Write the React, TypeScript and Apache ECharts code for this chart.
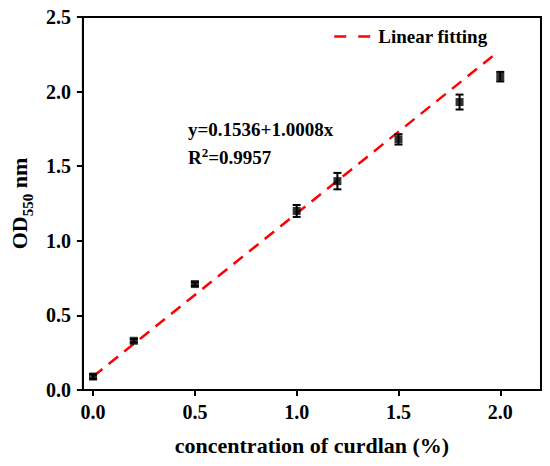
import React, { useEffect, useRef } from "react";
import * as echarts from "echarts";

const concentrations = [0, 0.2, 0.5, 1.0, 1.2, 1.5, 1.8, 2.0];
const odValues = [0.09, 0.33, 0.71, 1.2, 1.4, 1.68, 1.93, 2.1];
const odErrors = [0.015, 0.012, 0.012, 0.04, 0.055, 0.035, 0.05, 0.032];
const fitLine: [number, number][] = [
  [0, 0.09],
  [1.97, 2.245],
];
const xTicks = [0, 0.5, 1.0, 1.5, 2.0];
const equationText = "y=0.1536+1.0008x";
const r2Value = "0.9957";

const FONT = "'Liberation Serif', 'Times New Roman', serif";

export default function App() {
  const ref = useRef<HTMLDivElement>(null);
  useEffect(() => {
    if (!ref.current) return;
    const chart = echarts.init(ref.current, undefined, { renderer: "svg" });
    const errData = concentrations.map((x, i) => [x, odValues[i], odErrors[i]]);
    chart.setOption({
      animation: false,
      backgroundColor: "#fff",
      grid: {
        left: 77,
        top: 17,
        right: 9,
        bottom: 76,
        show: true,
        borderColor: "#000",
        borderWidth: 2,
        backgroundColor: "transparent",
      },
      legend: {
        data: ["Linear fitting"],
        left: 328,
        top: 22,
        itemWidth: 39,
        itemHeight: 14,
        itemGap: 10,
        itemStyle: { opacity: 0 },
        lineStyle: { color: "#ff0000", width: 2.5, type: [12, 12] },
        textStyle: { fontFamily: FONT, fontWeight: "bold", fontSize: 19, color: "#000" },
      },
      xAxis: {
        type: "value",
        min: -0.05,
        max: 2.2,
        splitLine: { show: false },
        axisLine: { onZero: false, lineStyle: { color: "#000", width: 2 } },
        axisTick: { customValues: xTicks, length: 6, lineStyle: { width: 2, color: "#000" } },
        axisLabel: {
          customValues: xTicks,
          formatter: (v: number) => v.toFixed(1),
          fontFamily: FONT,
          fontWeight: "bold",
          fontSize: 20,
          color: "#000",
          margin: 12,
        },
        name: "concentration of curdlan (%)",
        nameLocation: "middle",
        nameGap: 44,
        nameTextStyle: { fontFamily: FONT, fontWeight: "bold", fontSize: 22, color: "#000" },
      },
      yAxis: {
        type: "value",
        min: 0,
        max: 2.5,
        interval: 0.5,
        splitLine: { show: false },
        axisLine: { show: true, onZero: false, lineStyle: { color: "#000", width: 2 } },
        axisTick: { show: true, length: 6, lineStyle: { width: 2, color: "#000" } },
        axisLabel: {
          formatter: (v: number) => v.toFixed(1),
          fontFamily: FONT,
          fontWeight: "bold",
          fontSize: 20,
          color: "#000",
          margin: 12,
        },
        name: "{a|OD}{s|550}{a| nm}",
        nameLocation: "middle",
        nameGap: 46,
        nameTextStyle: {
          fontFamily: FONT,
          fontWeight: "bold",
          color: "#000",
          rich: {
            a: { fontFamily: FONT, fontWeight: "bold", fontSize: 22, lineHeight: 22, color: "#000" },
            s: {
              fontFamily: FONT,
              fontWeight: "bold",
              fontSize: 15,
              lineHeight: 15,
              verticalAlign: "top",
              padding: [12, 0, 0, 0],
              color: "#000",
            },
          },
        },
      },
      graphic: [
        {
          type: "text",
          left: 188,
          top: 120,
          style: {
            text: equationText,
            font: `bold 19px ${FONT}`,
            fill: "#000",
          },
        },
        {
          type: "text",
          left: 188,
          top: 146,
          style: {
            text: `{a|R}{p|2}{a|=${r2Value}}`,
            fill: "#000",
            rich: {
              a: { fontFamily: FONT, fontWeight: "bold", fontSize: 19, lineHeight: 22, fill: "#000" },
              p: { fontFamily: FONT, fontWeight: "bold", fontSize: 13, lineHeight: 13, verticalAlign: "top", fill: "#000" },
            },
          },
        },
      ],
      series: [
        {
          name: "Linear fitting",
          type: "line",
          data: fitLine,
          symbol: "none",
          lineStyle: { color: "#ff0000", width: 2.5, type: [12, 8] },
          itemStyle: { color: "#ff0000" },
          z: 3,
        },
        {
          name: "errors",
          type: "custom",
          data: errData,
          renderItem: (params: any, api: any) => {
            const x = api.value(0);
            const y = api.value(1);
            const e = api.value(2);
            const top = api.coord([x, y + e]);
            const bot = api.coord([x, y - e]);
            const cap = 4;
            const st = { stroke: "#000", lineWidth: 2 };
            return {
              type: "group",
              children: [
                { type: "line", shape: { x1: top[0], y1: top[1], x2: bot[0], y2: bot[1] }, style: st },
                { type: "line", shape: { x1: top[0] - cap, y1: top[1], x2: top[0] + cap, y2: top[1] }, style: st },
                { type: "line", shape: { x1: bot[0] - cap, y1: bot[1], x2: bot[0] + cap, y2: bot[1] }, style: st },
              ],
            };
          },
          z: 4,
        },
        {
          name: "OD",
          type: "scatter",
          data: concentrations.map((x, i) => [x, odValues[i]]),
          symbol: "rect",
          symbolSize: 8,
          itemStyle: { color: "#000" },
          z: 5,
        },
      ],
    });
    return () => chart.dispose();
  }, []);
  return (
    <div
      ref={ref}
      style={{ position: "absolute", left: 0, top: 0, width: 550, height: 466 }}
    />
  );
}
